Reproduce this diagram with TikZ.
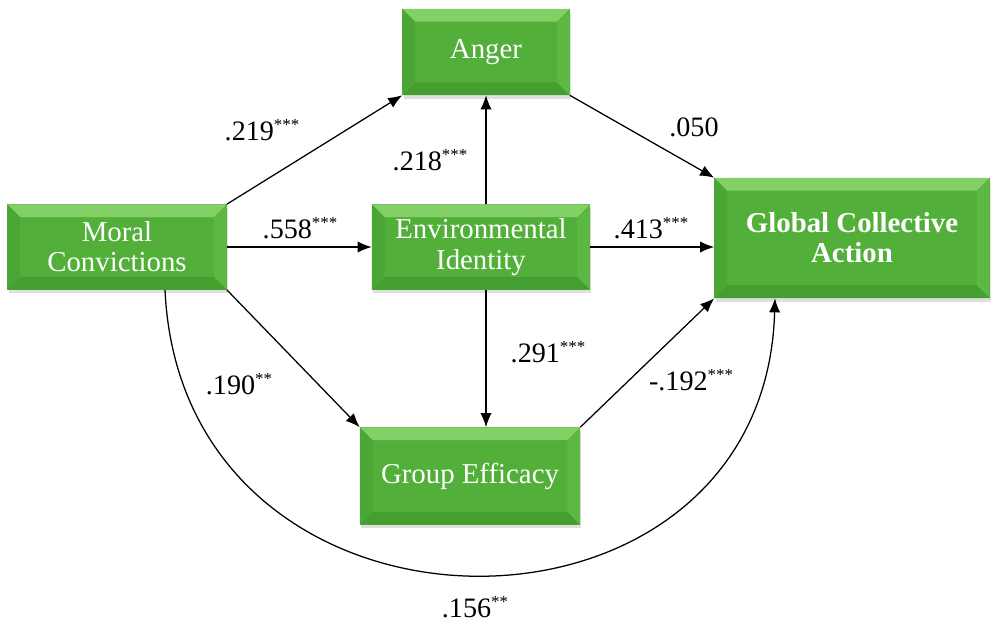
\documentclass[tikz,border=0pt]{standalone}
\usepackage{fontspec}
\setmainfont{Liberation Serif}
\usetikzlibrary{arrows.meta,positioning,calc,shadows}
\definecolor{boxgreen}{RGB}{82,176,58}
\definecolor{beveltop}{RGB}{130,208,102}
\definecolor{bevelbottom}{RGB}{68,158,48}
\definecolor{bevelleft}{RGB}{74,166,53}
\definecolor{bevelright}{RGB}{92,184,66}
\newcommand{\bevw}{9pt}
\newcommand{\sig}[1]{\raisebox{0.75ex}{\fontsize{12}{12}\selectfont #1}}

\begin{document}
\begin{tikzpicture}[x=0.025cm, y=-0.025cm,
    box/.style={rectangle, fill=boxgreen, text=white, align=center, inner sep=0pt,
      font=\fontsize{20.5}{21.5}\selectfont,
      drop shadow={shadow xshift=1pt, shadow yshift=-2.5pt, opacity=0.25},
      path picture={
        \fill[beveltop] (path picture bounding box.north west) -- (path picture bounding box.north east)
          -- ([shift={(-\bevw,-\bevw)}]path picture bounding box.north east) -- ([shift={(\bevw,-\bevw)}]path picture bounding box.north west) -- cycle;
        \fill[bevelbottom] (path picture bounding box.south west) -- (path picture bounding box.south east)
          -- ([shift={(-\bevw,\bevw)}]path picture bounding box.south east) -- ([shift={(\bevw,\bevw)}]path picture bounding box.south west) -- cycle;
        \fill[bevelleft] (path picture bounding box.north west) -- (path picture bounding box.south west)
          -- ([shift={(\bevw,\bevw)}]path picture bounding box.south west) -- ([shift={(\bevw,-\bevw)}]path picture bounding box.north west) -- cycle;
        \fill[bevelright] (path picture bounding box.north east) -- (path picture bounding box.south east)
          -- ([shift={(-\bevw,\bevw)}]path picture bounding box.south east) -- ([shift={(-\bevw,-\bevw)}]path picture bounding box.north east) -- cycle;
      }},
    coef/.style={font=\fontsize{20}{21}\selectfont, inner sep=1pt},
    arrow/.style={-{Latex[length=10pt,width=8pt]}, line width=0.9pt}
]
\useasboundingbox (0,0) rectangle (992,633);

\node[box, minimum width=4.175cm, minimum height=2.15cm] (anger) at (486,52) {Anger};
\node[box, minimum width=5.475cm, minimum height=2.125cm] (moral) at (117,247) {Moral\\Convictions};
\node[box, minimum width=5.45cm, minimum height=2.125cm] (env) at (481,247) {Environmental\\Identity};
\node[box, minimum width=6.875cm, minimum height=3cm, font=\fontsize{20.5}{21.5}\selectfont\bfseries] (gca) at (852,238) {Global Collective\\Action};
\node[box, minimum width=5.5cm, minimum height=2.425cm] (efficacy) at (470,476) {Group Efficacy};

\draw[arrow] (moral.north east) -- (anger.south west);
\draw[arrow] (moral) -- (env);
\draw[arrow] (anger.south |- env.north) -- (anger.south);
\draw[arrow] (anger.south east) -- (gca.north west);
\draw[arrow] (env.east) -- (env.east -| gca.west);
\draw[arrow] (anger.south |- env.south) -- (anger.south |- efficacy.north);
\draw[arrow] (moral.south east) -- (efficacy.north west);
\draw[arrow] (efficacy.north east) -- (gca.south west);
\draw[arrow] ([xshift=1.2cm]moral.south) .. controls (182,668) and (765,668) .. ([xshift=-1.925cm]gca.south);

\node[coef] (c219) at (262,130) {.219\sig{***}};
\node[coef] (c558) at (300,228) {.558\sig{***}};
\node[coef] (c218) at (430,160) {.218\sig{***}};
\node[coef] (c050) at (694,127) {.050};
\node[coef] (c413) at (651,228) {.413\sig{***}};
\node[coef] (c291) at (548,352) {.291\sig{***}};
\node[coef] (c190) at (239,384) {.190\sig{**}};
\node[coef] (c192) at (691,380) {-.192\sig{***}};
\node[coef] (c156) at (475,607) {.156\sig{**}};
\end{tikzpicture}
\end{document}
